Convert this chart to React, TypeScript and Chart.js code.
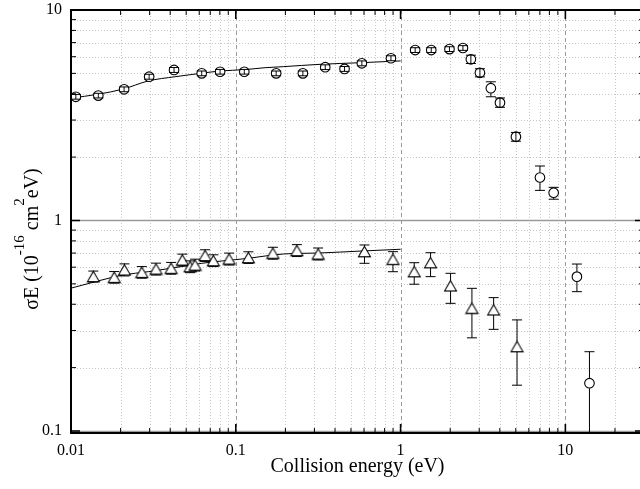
import React, { useEffect, useRef } from 'react';
import { Chart, registerables } from 'chart.js';

Chart.register(...registerables);

const FONT = "'Liberation Serif', 'Times New Roman', serif";

// Circles (open circles)
const circleEnergy = [0.0107, 0.01465, 0.021, 0.0298, 0.0422, 0.0621, 0.0803, 0.1126, 0.1758, 0.2553, 0.349, 0.457, 0.582, 0.874, 1.226, 1.535, 1.98, 2.39, 2.67, 3.03, 3.53, 4.01, 5.01, 7.01, 8.49, 11.75, 14.0];
const circleValue = [3.87, 3.92, 4.2, 4.82, 5.19, 5.0, 5.09, 5.09, 5.0, 5.0, 5.35, 5.25, 5.58, 5.9, 6.45, 6.45, 6.52, 6.6, 5.83, 5.03, 4.25, 3.63, 2.5, 1.6, 1.355, 0.541, 0.1686];
const circleUpper = [3.97, 4.02, 4.31, 4.95, 5.33, 5.13, 5.22, 5.22, 5.13, 5.13, 5.49, 5.39, 5.73, 6.06, 6.62, 6.62, 6.69, 6.77, 6.1, 5.26, 4.56, 3.82, 2.62, 1.815, 1.437, 0.621, 0.238];
const circleLower = [3.77, 3.82, 4.09, 4.69, 5.05, 4.87, 4.96, 4.96, 4.87, 4.87, 5.21, 5.11, 5.43, 5.74, 6.28, 6.28, 6.35, 6.43, 5.57, 4.81, 3.87, 3.45, 2.38, 1.39, 1.262, 0.459, 0.09];

// Triangles (open triangles)
const triEnergy = [0.01366, 0.0183, 0.0211, 0.0269, 0.0328, 0.0405, 0.0474, 0.0528, 0.0566, 0.0651, 0.0731, 0.0911, 0.1193, 0.168, 0.2348, 0.316, 0.604, 0.899, 1.21, 1.52, 2.01, 2.71, 3.67, 5.09];
const triValue = [0.541, 0.537, 0.582, 0.567, 0.588, 0.593, 0.649, 0.603, 0.614, 0.681, 0.644, 0.656, 0.666, 0.699, 0.719, 0.693, 0.711, 0.654, 0.571, 0.63, 0.489, 0.383, 0.376, 0.2515];
const triUpper = [0.575, 0.572, 0.622, 0.604, 0.627, 0.632, 0.692, 0.643, 0.655, 0.726, 0.687, 0.7, 0.71, 0.746, 0.768, 0.74, 0.765, 0.711, 0.63, 0.703, 0.561, 0.476, 0.43, 0.337];
const triLower = [0.51, 0.504, 0.545, 0.532, 0.551, 0.556, 0.609, 0.565, 0.576, 0.639, 0.604, 0.615, 0.625, 0.655, 0.674, 0.65, 0.626, 0.571, 0.498, 0.541, 0.404, 0.277, 0.304, 0.165];

// Fitted curves
const circleFitEnergy = [0.01, 0.0146, 0.0207, 0.0294, 0.0428, 0.0622, 0.0803, 0.1138, 0.1506, 0.194, 0.325, 0.58, 1.0];
const circleFitValue = [3.81, 3.98, 4.21, 4.6, 4.82, 5.01, 5.13, 5.21, 5.32, 5.38, 5.52, 5.62, 5.73];
const triFitEnergy = [0.01, 0.0146, 0.0207, 0.0294, 0.0428, 0.0622, 0.0822, 0.1193, 0.1506, 0.194, 0.325, 0.58, 1.0];
const triFitValue = [0.477, 0.516, 0.551, 0.571, 0.597, 0.626, 0.642, 0.661, 0.678, 0.693, 0.701, 0.716, 0.73];

// Axes
const xMin = 0.01;
const xMax = 30;
const yMin = 0.0978;
const yMax = 10;
const xTickValues = [0.01, 0.02, 0.03, 0.04, 0.05, 0.06, 0.07, 0.08, 0.09, 0.1, 0.2, 0.3, 0.4, 0.5, 0.6, 0.7, 0.8, 0.9, 1, 2, 3, 4, 5, 6, 7, 8, 9, 10, 20, 30];
const xMajorValues = [0.01, 0.1, 1, 10];
const xMajorLabels = ['0.01', '0.1', '1', '10'];
const yTickValues = [0.1, 0.2, 0.3, 0.4, 0.5, 0.6, 0.7, 0.8, 0.9, 1, 2, 3, 4, 5, 6, 7, 8, 9, 10];
const yMajorValues = [0.1, 1, 10];
const yMajorLabels = ['0.1', '1', '10'];

const xTitle = 'Collision energy (eV)';
const yTitleParts = [
  { text: 'σE (10', sup: false },
  { text: '-16', sup: true },
  { text: ' cm', sup: false },
  { text: '2', sup: true },
  { text: 'eV)', sup: false },
];

function makeTriangle(): HTMLCanvasElement {
  const c = document.createElement('canvas');
  c.width = 15;
  c.height = 13;
  const g = c.getContext('2d')!;
  g.fillStyle = '#ffffff';
  g.strokeStyle = '#000000';
  g.lineWidth = 1.1;
  g.beginPath();
  g.moveTo(7.5, 1.2);
  g.lineTo(13.5, 11.6);
  g.lineTo(1.5, 11.6);
  g.closePath();
  g.fill();
  g.stroke();
  return c;
}

const gridPlugin = {
  id: 'gridPlugin',
  beforeDatasetsDraw(chart: any) {
    const { ctx, chartArea: a } = chart;
    const xs = chart.scales.x;
    const ys = chart.scales.y;
    ctx.save();
    ctx.beginPath();
    ctx.rect(a.left, a.top, a.right - a.left, a.bottom - a.top);
    ctx.clip();
    for (const t of xs.ticks) {
      const v = t.value;
      const px = Math.round(xs.getPixelForValue(v)) + 0.5;
      if (px <= a.left + 1.5 || px >= a.right - 1.5) continue;
      const major = xMajorValues.includes(v);
      ctx.setLineDash(major ? [4, 3] : [1, 2]);
      ctx.strokeStyle = major ? '#9a9a9a' : '#c6c6c6';
      ctx.lineWidth = 1;
      ctx.beginPath();
      ctx.moveTo(px, a.top);
      ctx.lineTo(px, a.bottom);
      ctx.stroke();
    }
    for (const t of ys.ticks) {
      const v = t.value;
      const py = Math.round(ys.getPixelForValue(v)) + 0.5;
      if (py <= a.top + 1.5 || py >= a.bottom - 0.5) continue;
      const major = yMajorValues.includes(v);
      ctx.setLineDash(major ? [] : [1, 2]);
      ctx.strokeStyle = major ? '#9a9a9a' : '#c6c6c6';
      ctx.lineWidth = major ? 1.5 : 1;
      ctx.beginPath();
      ctx.moveTo(a.left, py);
      ctx.lineTo(a.right, py);
      ctx.stroke();
    }
    ctx.restore();
  },
  afterDatasetsDraw(chart: any) {
    const { ctx, chartArea: a } = chart;
    const xs = chart.scales.x;
    const ys = chart.scales.y;
    ctx.save();
    ctx.beginPath();
    ctx.rect(a.left, a.top, a.right - a.left, a.bottom - a.top);
    ctx.clip();
    ctx.strokeStyle = '#000';
    ctx.lineWidth = 1;
    ctx.setLineDash([]);
    const drawBars = (es: number[], us: number[], ls: number[], vs: number[], top: number, bottom: number) => {
      for (let i = 0; i < es.length; i++) {
        const px = xs.getPixelForValue(es[i]);
        const py = ys.getPixelForValue(vs[i]);
        const pu = ys.getPixelForValue(us[i]);
        const pl = ys.getPixelForValue(ls[i]);
        ctx.beginPath();
        if (pu < py - top) {
          ctx.moveTo(px, pu);
          ctx.lineTo(px, py - top);
        } else {
          ctx.moveTo(px, pu);
          ctx.lineTo(px, py);
        }
        if (pl > py + bottom) {
          ctx.moveTo(px, py + bottom);
          ctx.lineTo(px, pl);
        } else {
          ctx.moveTo(px, py);
          ctx.lineTo(px, pl);
        }
        ctx.moveTo(px - 5, pu);
        ctx.lineTo(px + 5, pu);
        ctx.moveTo(px - 5, pl);
        ctx.lineTo(px + 5, pl);
        ctx.stroke();
      }
    };
    drawBars(circleEnergy, circleUpper, circleLower, circleValue, 5, 5);
    drawBars(triEnergy, triUpper, triLower, triValue, 5.2, 5.2);
    ctx.restore();

    // frame and inward ticks
    ctx.save();
    ctx.strokeStyle = '#000';
    for (const t of xs.ticks) {
      const v = t.value;
      const px = xs.getPixelForValue(v);
      if (px <= a.left + 1.5 || px >= a.right - 0.5) continue;
      const major = xMajorValues.includes(v);
      const len = major ? 9 : 5;
      ctx.lineWidth = major ? 1.6 : 1;
      ctx.beginPath();
      ctx.moveTo(px, a.bottom);
      ctx.lineTo(px, a.bottom - len);
      ctx.moveTo(px, a.top);
      ctx.lineTo(px, a.top + len);
      ctx.stroke();
    }
    for (const t of ys.ticks) {
      const v = t.value;
      const py = ys.getPixelForValue(v);
      if (py <= a.top + 1.5 || py >= a.bottom - 0.5) continue;
      const major = yMajorValues.includes(v);
      const len = major ? 9 : 5;
      ctx.lineWidth = major ? 1.6 : 1;
      ctx.beginPath();
      ctx.moveTo(a.left, py);
      ctx.lineTo(a.left + len, py);
      ctx.moveTo(a.right, py);
      ctx.lineTo(a.right - len, py);
      ctx.stroke();
    }
    ctx.lineWidth = 2;
    ctx.strokeRect(a.left, a.top, a.right - a.left, a.bottom - a.top);
    ctx.restore();
  },
  afterDraw(chart: any) {
    const { ctx } = chart;
    ctx.save();
    ctx.translate(38, 239);
    ctx.rotate(-Math.PI / 2);
    ctx.fillStyle = '#000';
    ctx.textBaseline = 'alphabetic';
    ctx.textAlign = 'left';
    const mainFont = `20px ${FONT}`;
    const supFont = `15px ${FONT}`;
    let total = 0;
    const widths: number[] = [];
    for (const p of yTitleParts) {
      ctx.font = p.sup ? supFont : mainFont;
      const w = ctx.measureText(p.text).width;
      widths.push(w);
      total += w;
    }
    let x = -total / 2;
    yTitleParts.forEach((p, i) => {
      ctx.font = p.sup ? supFont : mainFont;
      ctx.fillText(p.text, x, p.sup ? -14 : 0);
      x += widths[i];
    });
    ctx.restore();
  },
};

export default function App() {
  const ref = useRef<HTMLCanvasElement>(null);
  useEffect(() => {
    const canvas = ref.current;
    if (!canvas) return;
    const tri = makeTriangle();
    const chart = new Chart(canvas, {
      type: 'scatter',
      data: {
        datasets: [
          {
            label: 'circles',
            data: circleEnergy.map((e, i) => ({ x: e, y: circleValue[i] })),
            pointStyle: 'circle',
            pointRadius: 4.8,
            pointBorderWidth: 1.1,
            pointBorderColor: '#000',
            pointBackgroundColor: '#fff',
            showLine: false,
          },
          {
            label: 'triangles',
            data: triEnergy.map((e, i) => ({ x: e, y: triValue[i] })),
            pointStyle: tri,
            pointRadius: 6,
            showLine: false,
          },
          {
            label: 'fit circles',
            data: circleFitEnergy.map((e, i) => ({ x: e, y: circleFitValue[i] })),
            showLine: true,
            borderColor: '#000',
            borderWidth: 1,
            pointRadius: 0,
            cubicInterpolationMode: 'monotone',
          },
          {
            label: 'fit triangles',
            data: triFitEnergy.map((e, i) => ({ x: e, y: triFitValue[i] })),
            showLine: true,
            borderColor: '#000',
            borderWidth: 1,
            pointRadius: 0,
            cubicInterpolationMode: 'monotone',
          },
        ],
      } as any,
      options: {
        responsive: false,
        animation: false,
        devicePixelRatio: 1,
        layout: { autoPadding: false, padding: { top: 10, right: 0, left: 0, bottom: 0 } },
        plugins: { legend: { display: false }, tooltip: { enabled: false } },
        events: [],
        scales: {
          x: {
            type: 'logarithmic',
            min: xMin,
            max: xMax,
            afterBuildTicks: (scale: any) => {
              scale.ticks = xTickValues.map((v) => ({ value: v }));
            },
            afterFit: (scale: any) => {
              scale.height = 56;
              scale.paddingLeft = 0;
              scale.paddingRight = 0;
              scale.paddingTop = 0;
              scale.paddingBottom = 0;
            },
            grid: { display: false, drawTicks: false },
            border: { display: false },
            ticks: {
              autoSkip: false,
              maxRotation: 0,
              minRotation: 0,
              padding: 8,
              color: '#000',
              font: { family: FONT, size: 16 },
              callback: (value: any) => {
                const i = xMajorValues.indexOf(Number(value));
                return i >= 0 ? xMajorLabels[i] : '';
              },
            },
            title: {
              display: true,
              text: xTitle,
              color: '#000',
              font: { family: FONT, size: 20 },
              padding: { top: 0, bottom: 10 },
            },
          },
          y: {
            type: 'logarithmic',
            min: yMin,
            max: yMax,
            afterBuildTicks: (scale: any) => {
              scale.ticks = yTickValues.map((v) => ({ value: v }));
            },
            afterFit: (scale: any) => {
              scale.width = 71;
              scale.paddingLeft = 0;
              scale.paddingRight = 0;
              scale.paddingTop = 0;
              scale.paddingBottom = 0;
            },
            grid: { display: false, drawTicks: false },
            border: { display: false },
            ticks: {
              autoSkip: false,
              padding: 9,
              color: '#000',
              font: { family: FONT, size: 16 },
              callback: (value: any) => {
                const i = yMajorValues.indexOf(Number(value));
                return i >= 0 ? yMajorLabels[i] : '';
              },
            },
            title: { display: false },
          },
        },
      } as any,
      plugins: [gridPlugin],
    });
    return () => chart.destroy();
  }, []);

  return (
    <div style={{ position: 'fixed', left: 0, top: 0, width: 640, height: 489, overflow: 'hidden', background: '#fff' }}>
      <canvas ref={ref} width={644} height={489} style={{ display: 'block', width: 644, height: 489 }} />
    </div>
  );
}
